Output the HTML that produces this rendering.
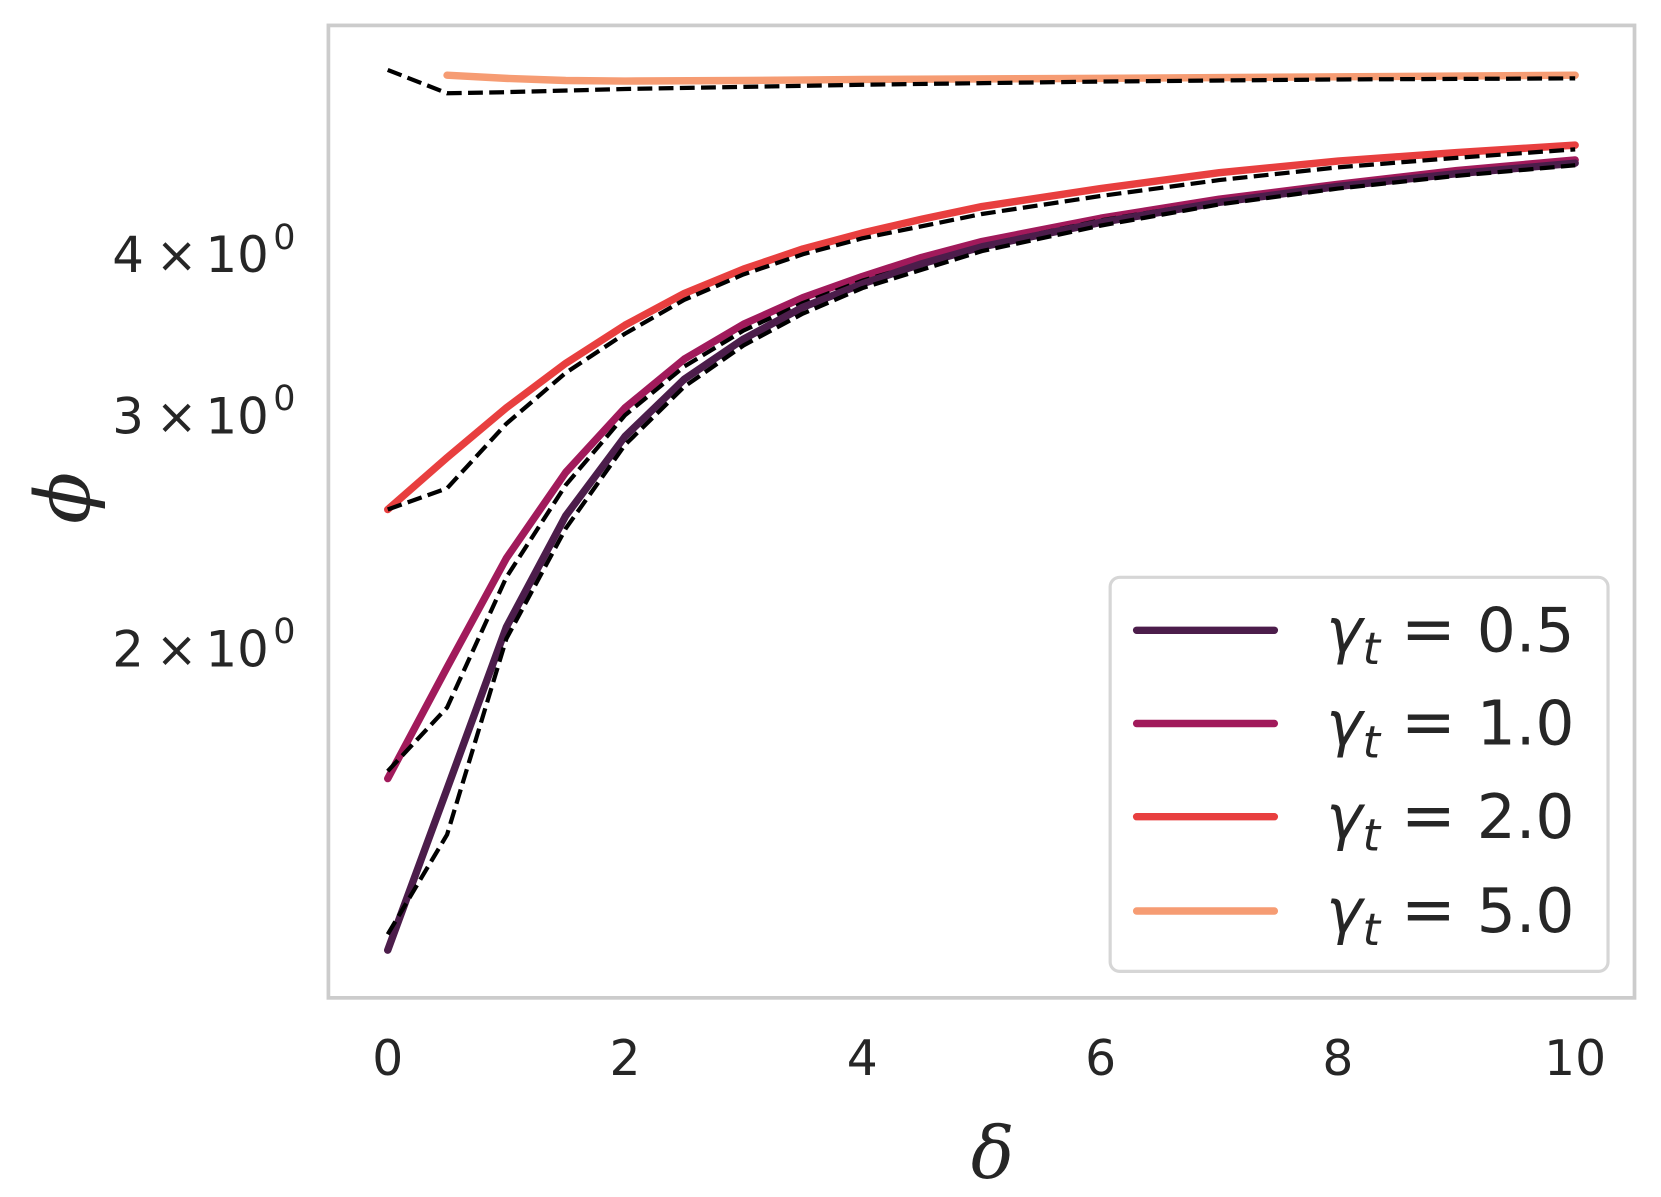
<!DOCTYPE html>
<html><head><meta charset="utf-8"><style>html,body{margin:0;padding:0;background:#fff}svg{display:block}</style></head>
<body>
<svg width="1661" height="1197" viewBox="0 0 1568 1130" xmlns="http://www.w3.org/2000/svg" font-family="'DejaVu Sans','Liberation Sans',sans-serif">
<rect x="0" y="0" width="1568" height="1130" fill="#fff"/>
<rect x="310" y="24" width="1233" height="918" fill="none" stroke="#cccccc" stroke-width="3.5"/>
<g fill="none" stroke-linejoin="round" stroke-linecap="round">
<polyline stroke="#f69c73" stroke-width="7" points="422,71 478,74 534,76 590,76.5 702,76 814,75 1039,74 1263,72.5 1487,71"/>
<polyline stroke="#000" stroke-width="4" stroke-dasharray="14,6" stroke-linecap="butt" points="366,66 422,88 478,87 590,84 814,80 1039,77 1263,75 1487,74"/>
<polyline stroke="#e83f3f" stroke-width="7" points="366,481 422,432 478,385 534,343 590,307 646,277 702,254 758,235 814,220 870,207 927,195 1039,178 1151,163 1263,152 1375,144 1487,137"/>
<polyline stroke="#000" stroke-width="4" stroke-dasharray="14,6" stroke-linecap="butt" points="366,481 422,461 478,400 534,352 590,315 646,283 702,259 758,240 814,225 927,202 1039,185 1151,170 1263,158 1375,149 1487,141"/>
<polyline stroke="#a11a5b" stroke-width="7" points="366,735 422,630 478,527 534,446 590,385 646,339 702,306 758,281 814,261 870,243 927,228 1039,206 1151,188 1263,174 1375,161 1487,151"/>
<polyline stroke="#000" stroke-width="4" stroke-dasharray="14,6" stroke-linecap="butt" points="366,728 422,668 478,545 534,458 590,392 646,346 702,312 758,286 814,265 927,232 1039,208 1151,190 1263,175 1375,163 1487,153"/>
<polyline stroke="#4c1d4b" stroke-width="7" points="366,897 422,745 478,592 534,487 590,412 646,358 702,320 758,290 814,268 870,249 927,233 1039,210 1151,191 1263,176 1375,164 1487,154"/>
<polyline stroke="#000" stroke-width="4" stroke-dasharray="14,6" stroke-linecap="butt" points="366,882 422,788 478,603 534,499 590,420 646,365 702,326 758,296 814,272 927,237 1039,213 1151,193 1263,178 1375,166 1487,156"/>
</g>
<g fill="#262626" font-size="46" text-anchor="middle">
<text x="366" y="1015">0</text><text x="590" y="1015">2</text><text x="814" y="1015">4</text>
<text x="1039" y="1015">6</text><text x="1263" y="1015">8</text><text x="1487" y="1015">10</text>
</g>
<g fill="#262626" font-size="47">
<text x="106" y="257">4</text><text x="147" y="257">×</text><text x="194" y="257">10</text><text x="258" y="235" font-size="33">0</text>
<text x="106" y="409">3</text><text x="147" y="409">×</text><text x="194" y="409">10</text><text x="258" y="387" font-size="33">0</text>
<text x="106" y="629">2</text><text x="147" y="629">×</text><text x="194" y="629">10</text><text x="258" y="607" font-size="33">0</text>
</g>
<text x="937" y="1112" font-size="68" font-style="italic" text-anchor="middle" fill="#262626" font-family="'DejaVu Serif','Liberation Serif',serif">δ</text>
<text transform="translate(84,470) rotate(-90)" font-size="72" font-style="italic" text-anchor="middle" fill="#262626" font-family="'DejaVu Serif','Liberation Serif',serif">ϕ</text>
<rect x="1048" y="545" width="470" height="372" rx="9" fill="#fff" stroke="#d6d6d6" stroke-width="3"/>
<g stroke-width="7" stroke-linecap="round">
<line x1="1073" y1="595" x2="1203" y2="595" stroke="#4c1d4b"/>
<line x1="1073" y1="683" x2="1203" y2="683" stroke="#a11a5b"/>
<line x1="1073" y1="771" x2="1203" y2="771" stroke="#e83f3f"/>
<line x1="1073" y1="860" x2="1203" y2="860" stroke="#f69c73"/>
</g>
<g fill="#262626" font-size="58">
<text x="1252" y="615"><tspan font-style="italic">γ</tspan><tspan font-style="italic" font-size="42" dy="12">t</tspan><tspan dy="-12" font-size="62"> = </tspan>0.5</text>
<text x="1252" y="703"><tspan font-style="italic">γ</tspan><tspan font-style="italic" font-size="42" dy="12">t</tspan><tspan dy="-12" font-size="62"> = </tspan>1.0</text>
<text x="1252" y="791"><tspan font-style="italic">γ</tspan><tspan font-style="italic" font-size="42" dy="12">t</tspan><tspan dy="-12" font-size="62"> = </tspan>2.0</text>
<text x="1252" y="880"><tspan font-style="italic">γ</tspan><tspan font-style="italic" font-size="42" dy="12">t</tspan><tspan dy="-12" font-size="62"> = </tspan>5.0</text>
</g>
</svg>
</body></html>
